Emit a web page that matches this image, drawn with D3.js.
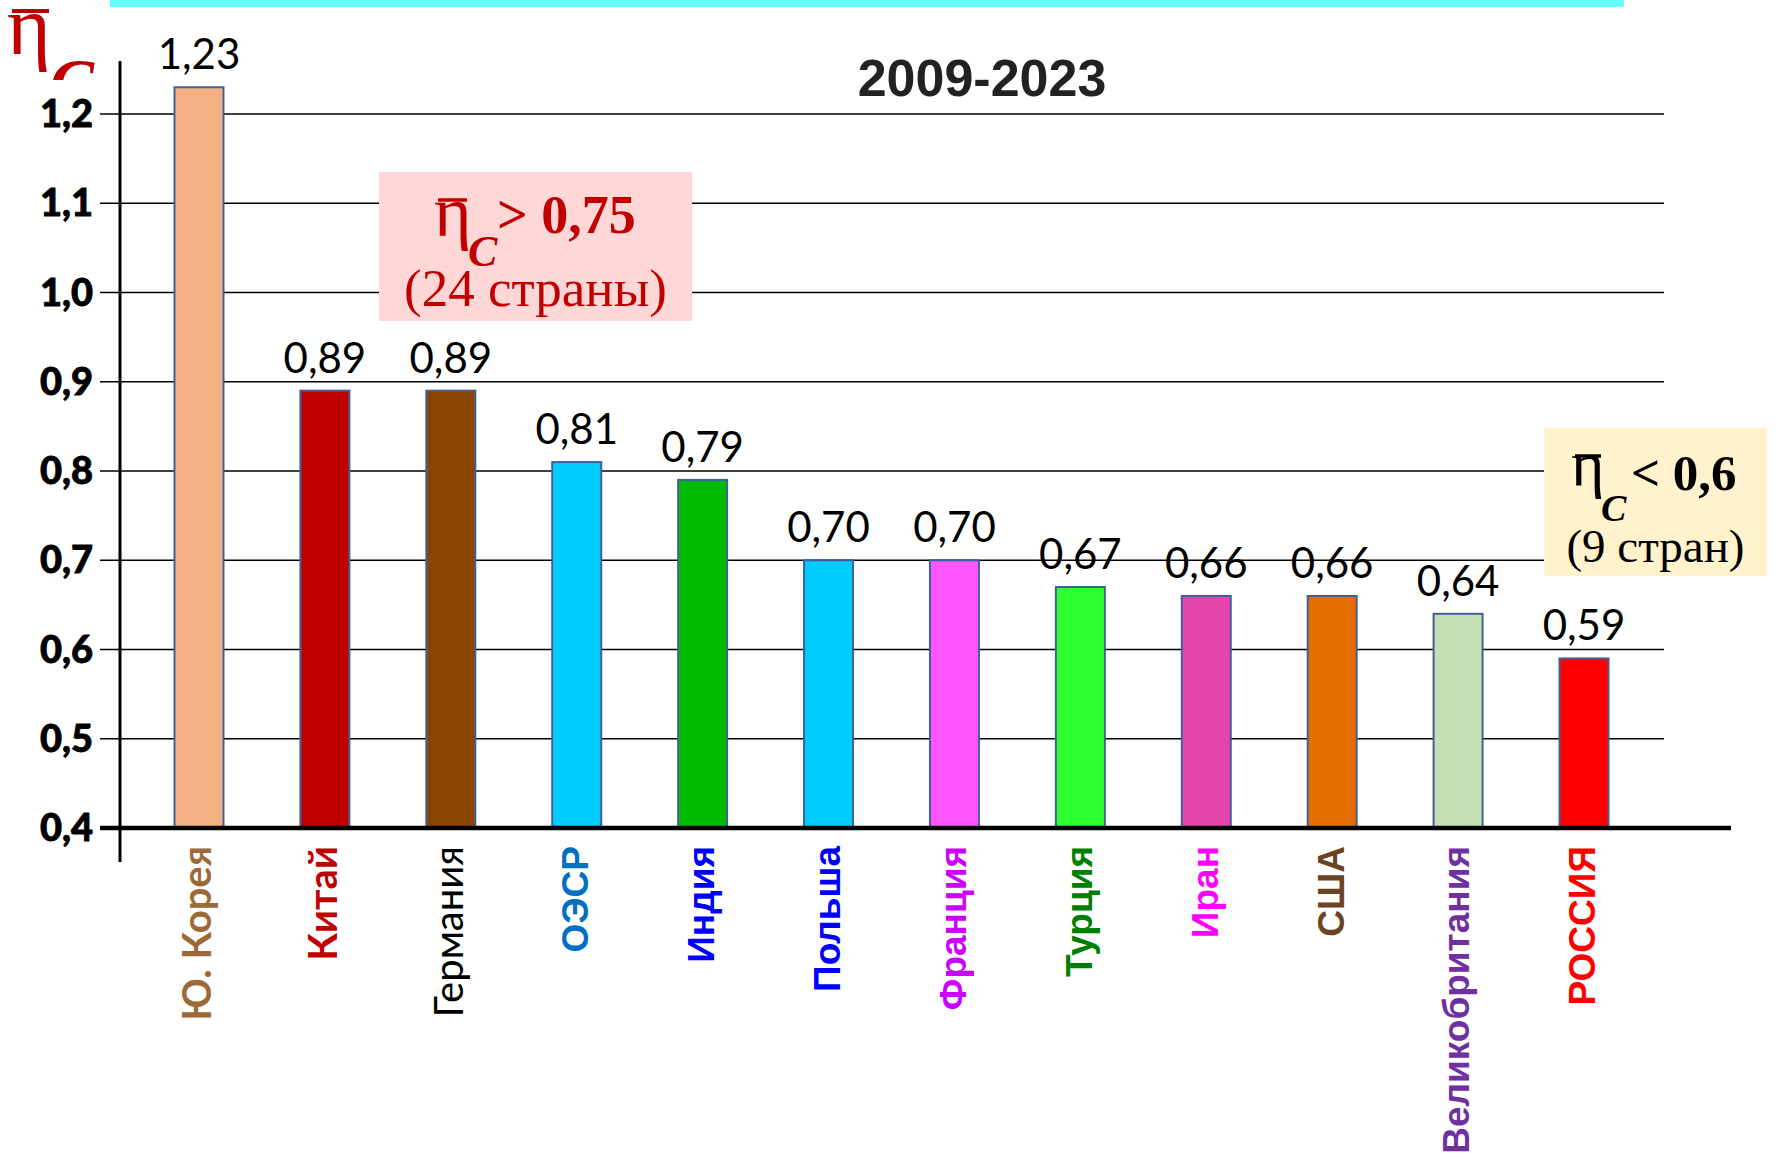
<!DOCTYPE html>
<html lang="ru">
<head>
<meta charset="UTF-8">
<title>eta c 2009-2023</title>
<script src="https://d3js.org/d3.v7.min.js"></script>
<style>
  body { margin: 0; background: #fff; }
</style>
</head>
<body>
<div id="chart"></div>
<script>
// data
var countries = ["Ю. Корея", "Китай", "Германия", "ОЭСР", "Индия", "Польша",
  "Франция", "Турция", "Иран", "США", "Великобритания", "РОССИЯ"];
var values = [1.23, 0.89, 0.89, 0.81, 0.79, 0.70, 0.70, 0.67, 0.66, 0.66, 0.64, 0.59];
var yTicks = [0.4, 0.5, 0.6, 0.7, 0.8, 0.9, 1.0, 1.1, 1.2];
var periodTitle = "2009-2023";

// colours
var barColors = ["#F4B183", "#C00000", "#8B4500", "#00CCFF", "#00BB00", "#00CCFF",
  "#FF55FF", "#2EFF2E", "#E645AB", "#E46F00", "#C5E0B4", "#FF0000"];
var labelColors = ["#9C6A38", "#C00000", "#000000", "#0070C0", "#0000FF", "#0000FF",
  "#CC00FF", "#008000", "#FF00FF", "#6B4423", "#7030A0", "#FF0000"];

var width = 1776, height = 1157;
var ru = d3.formatLocale({decimal: ",", thousands: " ", grouping: [3], currency: ["", ""]});

var svg = d3.select("#chart").append("svg")
  .attr("width", width)
  .attr("height", height)
  .style("font-family", "Lato, sans-serif");

svg.append("rect").attr("width", width).attr("height", height).attr("fill", "#fff");

var y = d3.scaleLinear().domain([0.4, 1.2]).range([828, 114]);
var x = d3.scalePoint().domain(countries).range([199, 1584]);
var barW = 49;

// cyan strip at the top
svg.append("rect").attr("x", 110).attr("y", 0).attr("width", 1514).attr("height", 7).attr("fill", "#66FFFF");

// grid lines
svg.append("g").selectAll("line")
  .data(yTicks.filter(function (d) { return d > 0.4; }))
  .join("line")
  .attr("x1", 100).attr("x2", 1664)
  .attr("y1", function (d) { return y(d); })
  .attr("y2", function (d) { return y(d); })
  .attr("stroke", "#000").attr("stroke-width", 1.6);

// tick labels
svg.append("g").selectAll("text")
  .data(yTicks)
  .join("text")
  .attr("x", 93)
  .attr("y", function (d) { return y(d) + 13; })
  .attr("text-anchor", "end")
  .attr("font-size", 38)
  .attr("font-weight", "900")
  .attr("stroke", "#000").attr("stroke-width", 0.8)
  .text(function (d) { return ru.format(".1f")(d); });

// title
svg.append("text")
  .attr("x", 982).attr("y", 96)
  .attr("text-anchor", "middle")
  .attr("font-family", "'Liberation Sans', Arial, sans-serif")
  .attr("font-weight", "bold")
  .attr("font-size", 52)
  .attr("fill", "#222")
  .text(periodTitle);

// bars
svg.append("g").selectAll("rect")
  .data(values)
  .join("rect")
  .attr("x", function (d, i) { return x(countries[i]) - barW / 2; })
  .attr("y", function (d) { return y(d); })
  .attr("width", barW)
  .attr("height", function (d) { return y(0.4) - y(d); })
  .attr("fill", function (d, i) { return barColors[i]; })
  .attr("stroke", "#41609A")
  .attr("stroke-width", 2);

// value labels
svg.append("g").selectAll("text")
  .data(values)
  .join("text")
  .attr("x", function (d, i) { return x(countries[i]); })
  .attr("y", function (d) { return y(d) - 18; })
  .attr("text-anchor", "middle")
  .attr("font-size", 42)
  .text(function (d) { return ru.format(".2f")(d); });

// axes
svg.append("line").attr("x1", 100).attr("x2", 1731).attr("y1", y(0.4)).attr("y2", y(0.4))
  .attr("stroke", "#000").attr("stroke-width", 4.5);
svg.append("line").attr("x1", 120).attr("x2", 120).attr("y1", 61).attr("y2", 862)
  .attr("stroke", "#000").attr("stroke-width", 3);

// category labels
svg.append("g").selectAll("text")
  .data(countries)
  .join("text")
  .attr("transform", function (d) { return "translate(" + (x(d) - 2) + ",846) rotate(-90)"; })
  .attr("text-anchor", "end")
  .attr("dy", "0.36em")
  .attr("font-family", function (d, i) { return i < 3 ? "Lato, sans-serif" : "'Liberation Sans', Arial, sans-serif"; })
  .attr("font-size", function (d, i) { return i < 3 ? 40 : 37; })
  .attr("font-weight", function (d, i) { return i === 2 ? "normal" : "bold"; })
  .attr("fill", function (d, i) { return labelColors[i]; })
  .text(function (d) { return d; });

// axis symbol: eta-bar with subscript C
var red = "#C00000";
var serif = "'Liberation Serif', 'Times New Roman', serif";
svg.append("clipPath").attr("id", "symClip").append("rect").attr("x", 0).attr("y", 0).attr("width", 100).attr("height", 80);
var sym = svg.append("g").attr("clip-path", "url(#symClip)");
sym.append("line").attr("x1", 12).attr("x2", 49).attr("y1", 11).attr("y2", 11).attr("stroke", red).attr("stroke-width", 4);
sym.append("text").attr("x", 7).attr("y", 54).attr("font-family", serif).attr("font-size", 84).attr("fill", red).text("η");
sym.append("text").attr("x", 50).attr("y", 104).attr("font-family", serif).attr("font-size", 66)
  .attr("font-style", "italic").attr("font-weight", "bold").attr("fill", red).text("C");

// note boxes
function noteBox(o) {
  var g = svg.append("g");
  g.append("rect").attr("x", o.x).attr("y", o.y).attr("width", o.w).attr("height", o.h).attr("fill", o.bg);
  g.append("line").attr("x1", o.etaX).attr("x2", o.etaX + o.etaW)
    .attr("y1", o.barY).attr("y2", o.barY).attr("stroke", o.color).attr("stroke-width", 3.5);
  g.append("text").attr("x", o.etaX - 4).attr("y", o.etaBase).attr("font-family", serif)
    .attr("font-size", o.etaSize).attr("fill", o.color).text("η");
  g.append("text").attr("x", o.cX).attr("y", o.cBase).attr("font-family", serif)
    .attr("font-size", o.cSize).attr("font-style", "italic").attr("font-weight", "bold")
    .attr("fill", o.color).text("C");
  g.append("text").attr("x", o.relX).attr("y", o.relBase).attr("font-family", serif)
    .attr("font-size", o.relSize).attr("font-weight", "bold").attr("fill", o.color).text(o.rel);
  g.append("text").attr("x", o.x + o.w / 2).attr("y", o.subBase).attr("text-anchor", "middle")
    .attr("font-family", serif).attr("font-size", o.subSize).attr("fill", o.color).text(o.sub);
}

noteBox({x: 379, y: 172, w: 313, h: 149, bg: "#FFD7D7", color: red,
  etaX: 438, etaW: 29, etaSize: 72, etaBase: 236, barY: 200,
  cX: 468, cBase: 266, cSize: 44,
  relX: 497, relBase: 233, relSize: 54, rel: "> 0,75",
  subBase: 306, subSize: 53, sub: "(24 страны)"});

noteBox({x: 1544, y: 428, w: 223, h: 148, bg: "#FFF2CC", color: "#000",
  etaX: 1575, etaW: 26, etaSize: 64, etaBase: 485, barY: 456,
  cX: 1601, cBase: 521, cSize: 38,
  relX: 1631, relBase: 490, relSize: 51, rel: "< 0,6",
  subBase: 562, subSize: 47, sub: "(9 стран)"});
</script>
</body>
</html>
